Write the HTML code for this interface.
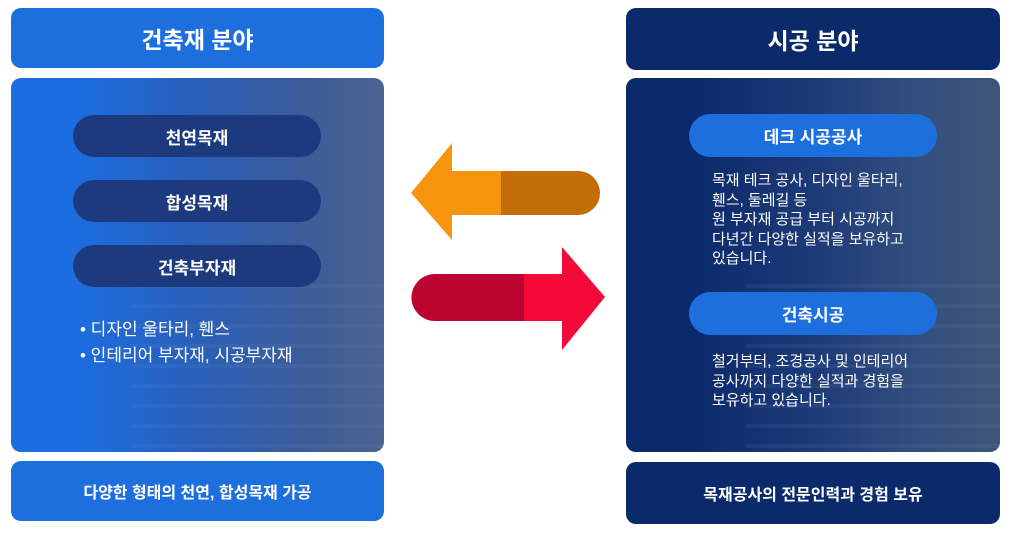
<!DOCTYPE html>
<html><head><meta charset="utf-8"><style>
body{margin:0;width:1010px;height:536px;background:#fff;position:relative;overflow:hidden;font-family:"Liberation Sans","Noto Sans CJK KR",sans-serif;color:#fff}
.a{position:absolute;box-sizing:border-box}
.hd{border-radius:10px;display:flex;align-items:center;justify-content:center;font-weight:bold}
.pill{border-radius:22px;display:flex;align-items:center;justify-content:center;font-weight:bold;font-size:17px}
.panel{border-radius:10px;overflow:hidden}
.stripes{position:absolute;left:0;right:0;top:190px;bottom:0;background:repeating-linear-gradient(180deg,rgba(255,255,255,0) 0 16px,rgba(150,170,210,.08) 16px 20px)}
.txt{font-size:15px;line-height:19.5px}
</style></head><body>
<div class="a hd" style="left:11px;top:8px;width:373px;height:60px;background:#1e6fde;font-size:23px">건축재 분야</div>
<div class="a panel" style="left:11px;top:78px;width:373px;height:374px;background:linear-gradient(90deg,#1c6ddf 0%,#1c6ddf 18%,#2a5fb8 50%,#3d5c98 80%,#4a6390 100%)"><div class="stripes" style="left:120px"></div></div>
<div class="a pill" style="left:73px;top:115px;width:248px;height:42px;background:#1d3a7f">천연목재</div>
<div class="a pill" style="left:73px;top:180px;width:248px;height:42px;background:#1d3a7f">합성목재</div>
<div class="a pill" style="left:73px;top:245px;width:248px;height:42px;background:#1d3a7f">건축부자재</div>
<div class="a txt" style="left:80px;top:317px;font-size:17px;line-height:26px">• 디자인 울타리, 휀스<br>• 인테리어 부자재, 시공부자재</div>
<div class="a hd" style="left:11px;top:461px;width:373px;height:60px;background:#1e6fde;font-size:16px">다양한 형태의 천연, 합성목재 가공</div>

<div class="a hd" style="left:626px;top:8px;width:374px;height:62px;background:#0b2a6c;font-size:23px">시공 분야</div>
<div class="a panel" style="left:626px;top:78px;width:374px;height:374px;background:linear-gradient(90deg,#0b2a6c 0%,#0b2a6c 18%,#1d3a78 50%,#34507f 80%,#3e5578 100%)"><div class="stripes" style="left:120px"></div></div>
<div class="a pill" style="left:689px;top:114px;width:248px;height:43px;background:#1e6fde">데크 시공공사</div>
<div class="a txt" style="left:712px;top:171px">목재 테크 공사, 디자인 울타리,<br>휀스, 둘레길 등<br>원 부자재 공급 부터 시공까지<br>다년간 다양한 실적을 보유하고<br>있습니다.</div>
<div class="a pill" style="left:689px;top:292px;width:248px;height:43px;background:#1e6fde">건축시공</div>
<div class="a txt" style="left:712px;top:352px">철거부터, 조경공사 및 인테리어<br>공사까지 다양한 실적과 경험을<br>보유하고 있습니다.</div>
<div class="a hd" style="left:626px;top:462px;width:374px;height:62px;background:#0b2a6c;font-size:16px">목재공사의 전문인력과 경험 보유</div>

<svg class="a" style="left:0;top:0" width="1010" height="536">
<path d="M500 171 H578 A22 22 0 0 1 578 215 H500 Z" fill="#c26d07"/>
<path d="M501 171 H452 V143 L411 193 L452 240 V215 H501 Z" fill="#f7940d"/>
<path d="M525 274 H435 A23.5 23.5 0 0 0 435 321 H525 Z" fill="#bb0430"/>
<path d="M524 274 H562 V247 L605 297 L562 350 V321 H524 Z" fill="#f30a38"/>
</svg>
</body></html>
